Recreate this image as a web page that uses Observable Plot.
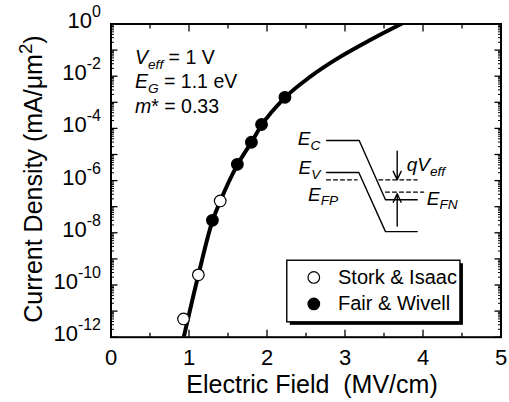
<!DOCTYPE html>
<html><head><meta charset="utf-8">
<script src="https://cdn.jsdelivr.net/npm/d3@7"></script>
<script src="https://cdn.jsdelivr.net/npm/@observablehq/plot@0.6"></script>
<style>
body{margin:0;background:#fff}
svg text{white-space:pre}
</style>
</head><body><div id="chart"></div>
<script>
// ---- data ----
const storkX = [0.93, 1.12, 1.40];
const storkY = [5.0e-12, 2.45e-10, 1.66e-7];
const fairX = [1.30, 1.62, 1.80, 1.93, 2.23];
const fairY = [3.0e-8, 4.2e-6, 2.95e-5, 1.41e-4, 1.55e-3];
const curveX = [0.933, 1.12, 1.30, 1.40, 1.62, 1.80, 1.93, 2.23, 2.56, 2.90, 3.33, 3.72];
const curveY = [1e-12, 2.4e-10, 2.8e-8, 1.6e-7, 4.0e-6, 2.95e-5, 1.32e-4, 1.51e-3, 9.8e-3, 4.7e-2, 2.5e-1, 1.0];

// ticks
const xMajor = [0, 1, 2, 3, 4, 5];
const xMinor = [0.5, 1.5, 2.5, 3.5, 4.5];
const yLabelTicks = [1e-12, 1e-10, 1e-8, 1e-6, 1e-4, 1e-2, 1];
const yMajorExp = [-12,-11,-10,-9,-8,-7,-6,-5,-4,-3,-2,-1,0];
const yMinorMult = [2,3,4,5,6,7,8,9];

// legend
const legendLabels = ["Stork & Isaac", "Fair & Wivell"];
const legendBox = {x1: 2.26, x2: 4.48, ly1: -9.07, ly2: -11.43};
const legendSymX = 2.6, legendTextX = 2.91, legendRowsLog = [-9.71, -10.725];

// band-diagram inset (x in MV/cm, y as log10 of current density)
const bandEC = {x: [2.763, 3.182, 3.519, 3.926], ly: [-4.466, -4.466, -6.733, -6.733]};
const bandEV = {x: [2.763, 3.177, 3.519, 3.926], ly: [-5.687, -5.687, -7.954, -7.954]};
const dashEFP = {x: [2.763, 3.156], ly: [-5.969, -5.969]};
const dashUp = {x: [3.433, 3.926], ly: [-5.969, -5.969]};
const dashEFN = {x: [3.519, 4.010], ly: [-6.439, -6.439]};
const arrowDown = {x: 3.669, ly1: -4.874, ly2: -5.969};
const arrowUp = {x: 3.669, ly1: -7.737, ly2: -6.504};

// ---- build tables ----
const stork = storkX.map((x, i) => ({x, y: storkY[i]}));
const fair = fairX.map((x, i) => ({x, y: fairY[i]}));
const curve = curveX.map((x, i) => ({x, y: curveY[i]}));
const yMajor = yMajorExp.map(e => Math.pow(10, e));
const yMinor = yMajorExp.slice(0, -1).flatMap(e => yMinorMult.map(k => k * Math.pow(10, e)));
const seg = s => s.x.map((x, i) => ({x, y: Math.pow(10, s.ly[i])}));
const legendRows = legendLabels.map((t, i) => ({t, y: Math.pow(10, legendRowsLog[i])}));
const box = [{x1: legendBox.x1, x2: legendBox.x2, y1: Math.pow(10, legendBox.ly1), y2: Math.pow(10, legendBox.ly2)}];
const arrows = [arrowDown, arrowUp].map(a => ({x: a.x, y1: Math.pow(10, a.ly1), y2: Math.pow(10, a.ly2)}));

const font = "'Liberation Sans', Arial, Helvetica, sans-serif";
const svg = Plot.plot({
  width: 509, height: 402,
  marginLeft: 110.5, marginRight: 8.5, marginTop: 23.5, marginBottom: 65.3,
  style: {fontFamily: font, fontSize: "22px", background: "white", color: "black", overflow: "visible"},
  x: {domain: [0, 5]},
  y: {type: "log", domain: [1e-12, 1]},
  marks: [
    // ticks (inward)
    Plot.axisX({ticks: xMajor, anchor: "bottom", tickSize: -7, text: null, label: null, strokeWidth: 1.3}),
    Plot.axisX({ticks: xMinor, anchor: "bottom", tickSize: -4, text: null, label: null, strokeWidth: 1.3}),
    Plot.axisX({ticks: xMajor, anchor: "top", tickSize: -7, text: null, label: null, strokeWidth: 1.3}),
    Plot.axisX({ticks: xMinor, anchor: "top", tickSize: -4, text: null, label: null, strokeWidth: 1.3}),
    Plot.axisY({ticks: yMajor, anchor: "left", tickSize: -7, text: null, label: null, strokeWidth: 1.3}),
    Plot.axisY({ticks: yMinor, anchor: "left", tickSize: -3.5, text: null, label: null, strokeWidth: 1}),
    Plot.axisY({ticks: yMajor, anchor: "right", tickSize: -7, text: null, label: null, strokeWidth: 1.3}),
    Plot.axisY({ticks: yMinor, anchor: "right", tickSize: -3.5, text: null, label: null, strokeWidth: 1}),
    // tick labels
    Plot.axisX({ticks: xMajor, anchor: "bottom", tickSize: 0, tickPadding: 12, label: null, fontSize: 22, tickFormat: d => String(d)}),
    Plot.axisY({ticks: yLabelTicks, anchor: "left", tickSize: 0, tickPadding: 10, label: null, fontSize: 22,
      tickFormat: d => "10^" + Math.round(Math.log10(d))}),
    // band diagram
    Plot.line(seg(bandEC), {x: "x", y: "y", stroke: "black", strokeWidth: 1.4}),
    Plot.line(seg(bandEV), {x: "x", y: "y", stroke: "black", strokeWidth: 1.4}),
    Plot.line(seg(dashEFP), {x: "x", y: "y", stroke: "black", strokeWidth: 1.2, strokeDasharray: "4,3"}),
    Plot.line(seg(dashUp), {x: "x", y: "y", stroke: "black", strokeWidth: 1.2, strokeDasharray: "4,3"}),
    Plot.line(seg(dashEFN), {x: "x", y: "y", stroke: "black", strokeWidth: 1.2, strokeDasharray: "4,3"}),
    Plot.arrow(arrows, {x: "x", y1: "y1", y2: "y2", stroke: "black", strokeWidth: 1.4, headLength: 10, headAngle: 50}),
    // legend
    Plot.rect(box, {x1: "x1", x2: "x2", y1: "y1", y2: "y2", fill: "black", dx: 3, dy: 3}),
    Plot.rect(box, {x1: "x1", x2: "x2", y1: "y1", y2: "y2", fill: "white", stroke: "black", strokeWidth: 1.4}),
    Plot.dot(legendRows.slice(0, 1), {x: () => legendSymX, y: "y", r: 5.8, fill: "white", stroke: "black", strokeWidth: 1.2}),
    Plot.dot(legendRows.slice(1), {x: () => legendSymX, y: "y", r: 5.8, fill: "black", stroke: "black", strokeWidth: 1.2}),
    Plot.text(legendRows, {x: () => legendTextX, y: "y", text: "t", textAnchor: "start", fontSize: 20}),
    // curve and data
    Plot.line(curve, {x: "x", y: "y", stroke: "black", strokeWidth: 4, curve: "monotone-x", clip: true}),
    Plot.dot(stork, {x: "x", y: "y", r: 5.8, fill: "white", stroke: "black", strokeWidth: 1.2}),
    Plot.dot(fair, {x: "x", y: "y", r: 5.8, fill: "black", stroke: "black", strokeWidth: 1.2}),
    Plot.frame({stroke: "black", strokeWidth: 2})
  ]
});
document.getElementById("chart").appendChild(svg);

// superscript y tick labels
d3.select(svg).selectAll('g[aria-label="y-axis tick label"] text').each(function () {
  const s = this.textContent, m = s.match(/^10\^(.*)$/);
  if (!m) return;
  const t = d3.select(this);
  t.text(null).attr("y", 4);
  t.append("tspan").text("10");
  t.append("tspan").attr("dy", -11).attr("font-size", 16).text(m[1]);
});

const sx = svg.scale("x").apply, sy = svg.scale("y").apply;
function rich(parts, px, py, {size = 19, anchor = "start", rotate = 0, sub = 0.72, drop = 0.26} = {}) {
  const t = d3.select(svg).append("text")
    .attr("transform", `translate(${px},${py}) rotate(${rotate})`)
    .attr("font-size", size).attr("text-anchor", anchor).attr("fill", "black").attr("font-family", font);
  let shift = 0;
  for (const p of parts) {
    const target = p.sub ? size * drop : p.sup ? -size * 0.42 : 0;
    const ts = t.append("tspan").text(p.t).attr("dy", target - shift);
    shift = target;
    if (p.sub || p.sup) ts.attr("font-size", size * sub);
    if (p.i) ts.attr("font-style", "italic");
  }
}
const at = (x, ly) => [sx(x), sy(Math.pow(10, ly))];

// parameter annotations
rich([{t: "V", i: 1}, {t: "eff", i: 1, sub: 1}, {t: " = 1 V"}], ...at(0.314, -1.565), {size: 19.5, sub: 0.7, drop: 0.22});
rich([{t: "E", i: 1}, {t: "G", i: 1, sub: 1}, {t: " = 1.1 eV"}], ...at(0.314, -2.481), {size: 19.5, sub: 0.7, drop: 0.22});
rich([{t: "m", i: 1}, {t: "* = 0.33"}], ...at(0.314, -3.412), {size: 19.5});

// inset labels
rich([{t: "E", i: 1}, {t: "C", i: 1, sub: 1}], ...at(2.69, -4.645), {size: 19, anchor: "end"});
rich([{t: "E", i: 1}, {t: "V", i: 1, sub: 1}], ...at(2.69, -5.763), {size: 19, anchor: "end"});
rich([{t: "E", i: 1}, {t: "FP", i: 1, sub: 1}], ...at(2.532, -6.783), {size: 19});
rich([{t: "qV", i: 1}, {t: "eff", i: 1, sub: 1}], ...at(3.797, -5.664), {size: 19});
rich([{t: "E", i: 1}, {t: "FN", i: 1, sub: 1}], ...at(4.054, -6.935), {size: 19});

// axis titles
rich([{t: "Electric Field  (MV/cm)"}], 312, 393, {size: 25, anchor: "middle"});
rich([{t: "Current Density (mA/\u03bcm"}, {t: "2", sup: 1}, {t: ")"}], 42, 179, {size: 25, anchor: "middle", rotate: -90, sub: 0.75});
</script>
</body></html>
